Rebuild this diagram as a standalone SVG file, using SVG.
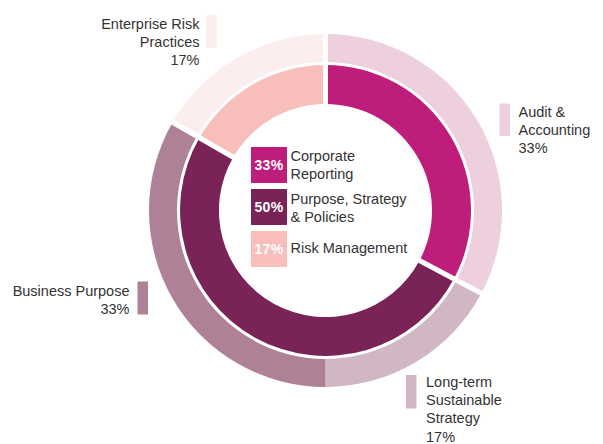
<svg xmlns="http://www.w3.org/2000/svg" width="603" height="444" viewBox="0 0 603 444">
<style>
  .lbl { font-family: "Liberation Sans", Arial, sans-serif; font-size: 14.5px; fill: #333333; }
  .end { text-anchor: end; }
  .pct { font-family: "Liberation Sans", Arial, sans-serif; font-size: 14px; font-weight: bold; fill: #ffffff; text-anchor: middle; letter-spacing: 0.4px; }
  .sep { stroke: #ffffff; stroke-width: 5; fill: none; }
</style>
<rect width="603" height="444" fill="#ffffff"/>

<g id="outer-ring">
  <g id="seg-audit"><path fill="#EDCFDE" d="M325.5,34 A176.5,176.5 0 0 1 481.34,293.36 L456.62,280.22 A148.5,148.5 0 0 0 325.5,62 Z"/></g>
  <g id="seg-longterm"><path fill="#D1B6C3" d="M481.34,293.36 A176.5,176.5 0 0 1 325.5,387 L325.5,359 A148.5,148.5 0 0 0 456.62,280.22 Z"/></g>
  <g id="seg-business"><path fill="#AF8196" d="M325.5,387 A176.5,176.5 0 0 1 172.65,122.25 L196.90,136.25 A148.5,148.5 0 0 0 325.5,359 Z"/></g>
  <g id="seg-enterprise"><path fill="#FCEEEE" d="M172.65,122.25 A176.5,176.5 0 0 1 325.5,34 L325.5,62 A148.5,148.5 0 0 0 196.90,136.25 Z"/></g>
</g>

<g id="inner-ring">
  <g id="seg-corporate"><path fill="#BE1D7B" d="M325.5,65 A145.5,145.5 0 0 1 453.97,278.81 L419.53,260.50 A106.5,106.5 0 0 0 325.5,104 Z"/></g>
  <g id="seg-purpose"><path fill="#7A2356" d="M453.97,278.81 A145.5,145.5 0 1 1 199.49,137.75 L233.27,157.25 A106.5,106.5 0 1 0 419.53,260.50 Z"/></g>
  <g id="seg-risk"><path fill="#F8BEBC" d="M199.49,137.75 A145.5,145.5 0 0 1 325.5,65 L325.5,104 A106.5,106.5 0 0 0 233.27,157.25 Z"/></g>
</g>

<g id="separators">
  <line class="sep" x1="325.5" y1="30" x2="325.5" y2="108"/>
  <line class="sep" x1="413.8" y1="257.45" x2="484.43" y2="295.0"/>
  <line class="sep" x1="238.9" y1="160.5" x2="169.6" y2="120.5"/>
</g>

<g id="legend">
  <g id="legend-corporate">
    <rect x="251" y="147" width="36" height="36" fill="#BE1D7B"/>
    <text class="pct" x="269" y="170">33%</text>
    <text class="lbl" x="290.5" y="161">Corporate</text>
    <text class="lbl" x="290.5" y="178.5">Reporting</text>
  </g>
  <g id="legend-purpose">
    <rect x="251" y="189" width="36" height="36" fill="#7A2356"/>
    <text class="pct" x="269" y="212">50%</text>
    <text class="lbl" x="290.5" y="203.5">Purpose, Strategy</text>
    <text class="lbl" x="290.5" y="221.5">&amp; Policies</text>
  </g>
  <g id="legend-risk">
    <rect x="251" y="231" width="36" height="36" fill="#F8BEBC"/>
    <text class="pct" x="269" y="253.5">17%</text>
    <text class="lbl" x="290.5" y="252.5">Risk Management</text>
  </g>
</g>

<g id="label-enterprise">
  <rect x="206" y="15" width="10.5" height="33" fill="#FCEEEE"/>
  <text class="lbl end" x="199.5" y="28.5">Enterprise Risk</text>
  <text class="lbl end" x="199.5" y="46.5">Practices</text>
  <text class="lbl end" x="199.5" y="64.5">17%</text>
</g>

<g id="label-audit">
  <rect x="499.5" y="103.5" width="10.5" height="32.5" fill="#EDCFDE"/>
  <text class="lbl" x="518.5" y="116.7">Audit &amp;</text>
  <text class="lbl" x="518.5" y="135">Accounting</text>
  <text class="lbl" x="518.5" y="153.3">33%</text>
</g>

<g id="label-business">
  <rect x="137.5" y="281.5" width="10.5" height="33" fill="#AF8196"/>
  <text class="lbl end" x="129.5" y="296">Business Purpose</text>
  <text class="lbl end" x="129.5" y="314">33%</text>
</g>

<g id="label-longterm">
  <rect x="406" y="375" width="10.5" height="33.5" fill="#D1B6C3"/>
  <text class="lbl" x="426" y="386.7">Long-term</text>
  <text class="lbl" x="426" y="405">Sustainable</text>
  <text class="lbl" x="426" y="423.3">Strategy</text>
  <text class="lbl" x="426" y="441.7">17%</text>
</g>
</svg>
